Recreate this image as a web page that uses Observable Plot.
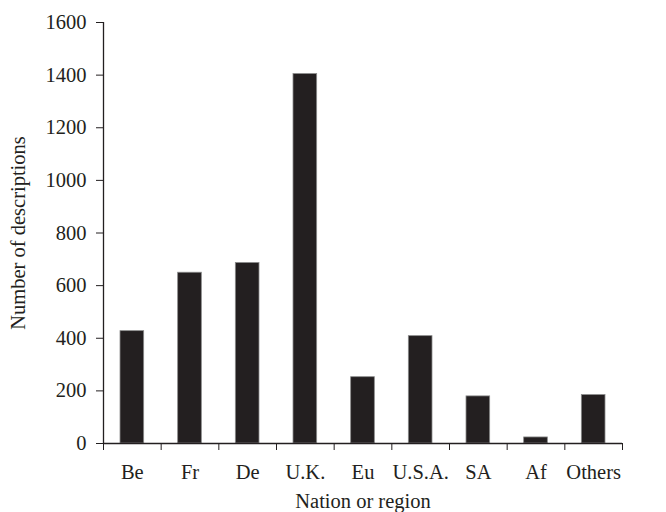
<!DOCTYPE html>
<html>
<head>
<meta charset="utf-8">
<script src="https://cdn.jsdelivr.net/npm/d3@7"></script>
<script src="https://cdn.jsdelivr.net/npm/@observablehq/plot@0.6"></script>
<style>
  html, body { margin: 0; padding: 0; background: #fff; }
</style>
</head>
<body>
<div id="chart"></div>
<script>
const categories = ["Be", "Fr", "De", "U.K.", "Eu", "U.S.A.", "SA", "Af", "Others"];
const counts = [427, 649, 686, 1404, 252, 408, 179, 23, 184];
const yTicks = [0, 200, 400, 600, 800, 1000, 1200, 1400, 1600];

const data = categories.map((c, i) => ({i, category: c, count: counts[i]}));
const ink = "#231f20";
const fs = 20.5;

const chart = Plot.plot({
  width: 666,
  height: 512,
  marginLeft: 103,
  marginRight: 44,
  marginTop: 22,
  marginBottom: 69,
  style: {fontFamily: "'Liberation Serif', 'Times New Roman', serif", fontSize: fs + "px", color: ink, background: "#fff"},
  x: {domain: [0, categories.length]},
  y: {domain: [0, 1600]},
  marks: [
    Plot.rectY(data, {x1: d => d.i, x2: d => d.i + 1, y: "count", insetLeft: 17, insetRight: 17, fill: ink, stroke: "#8a8a8a", strokeWidth: 0.8}),
    Plot.axisY({ticks: yTicks, tickSize: 7, tickPadding: 10, tickFormat: d => String(d), stroke: ink, fill: ink, fontSize: fs,
      label: "Number of descriptions", labelAnchor: "center", labelArrow: "none", labelOffset: 93}),
    Plot.ruleX([0], {stroke: ink, strokeWidth: 1.3}),
    Plot.axisX({ticks: d3.range(categories.length + 1), tickSize: 7, tickFormat: () => "", stroke: ink, label: null}),
    Plot.axisX({ticks: d3.range(categories.length).map(i => i + 0.5), tickSize: 0, tickPadding: 21, tickFormat: d => categories[Math.floor(d)], fill: ink, fontSize: fs,
      label: "Nation or region", labelAnchor: "center", labelArrow: "none", labelOffset: 64}),
    Plot.ruleY([0], {stroke: ink, strokeWidth: 1.3})
  ]
});
document.getElementById("chart").appendChild(chart);
</script>
</body>
</html>
